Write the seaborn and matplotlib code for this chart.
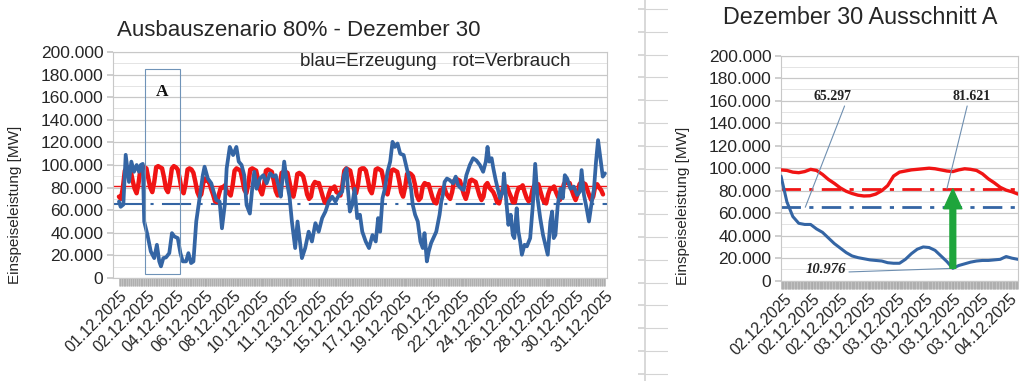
import numpy as np
import pandas as pd
import matplotlib
matplotlib.use("Agg")
import matplotlib.pyplot as plt
import seaborn as sns
from matplotlib.ticker import FuncFormatter, MultipleLocator
from matplotlib.patches import Rectangle

# Ganzer Monat: Erzeugung (blau), Tag im Dezember (0 = 01.12. 00:00), Werte in Tsd. MW
blau_tag = [0.0, 0.11, 0.28, 0.43, 0.64, 0.79, 0.96, 1.13, 1.28, 1.39, 1.52, 1.61, 1.82, 2.03,
            2.25, 2.42, 2.57, 2.68, 2.83, 3.0, 3.21, 3.38, 3.53, 3.75, 3.92, 4.07, 4.28, 4.43,
            4.6, 4.75, 4.93, 5.14, 5.35, 5.46, 5.67, 5.89, 6.04, 6.21, 6.42, 6.57, 6.75, 6.87,
            7.07, 7.28, 7.49, 7.64, 7.82, 7.99, 8.14, 8.35, 8.5, 8.63, 8.78, 8.99, 9.21, 9.42,
            9.64, 9.85, 10.0, 10.17, 10.32, 10.54, 10.71, 10.88, 11.03, 11.24, 11.39, 11.52,
            11.67, 11.88, 12.1, 12.31, 12.53, 12.74, 12.96, 13.17, 13.38, 13.6, 13.81, 14.03,
            14.24, 14.35, 14.52, 14.6, 14.73, 14.88, 15.03, 15.2, 15.37, 15.52, 15.74, 15.95,
            16.17, 16.38, 16.53, 16.66, 16.81, 16.96, 17.13, 17.3, 17.45, 17.6, 17.77, 17.94,
            18.16, 18.31, 18.46, 18.63, 18.74, 18.89, 19.06, 19.23, 19.38, 19.49, 19.64, 19.76,
            19.91, 20.1, 20.24, 20.45, 20.56, 20.66, 20.77, 20.92, 21.09, 21.31, 21.48, 21.63,
            21.84, 21.99, 22.16, 22.38, 22.59, 22.8, 23.02, 23.23, 23.4, 23.51, 23.62, 23.77,
            23.88, 24.03, 24.16, 24.31, 24.48, 24.56, 24.69, 24.84, 24.99, 25.12, 25.22, 25.37,
            25.48, 25.59, 25.7, 25.87, 26.02, 26.23, 26.4, 26.55, 26.7, 26.87, 27.05, 27.2,
            27.35, 27.52, 27.63, 27.73, 27.84, 27.99, 28.16, 28.31, 28.44, 28.59, 28.8, 29.01,
            29.23, 29.4, 29.51, 29.66, 29.83, 29.98, 30.13, 30.3, 30.43, 30.56, 30.68, 30.86,
            31.0]
blau_tsd = [67.6, 63, 65, 109, 85, 103, 94, 100, 94, 100, 101, 50, 38, 23.5,
            17.6, 29.4, 14.7, 10.3, 17.6, 18.2, 22, 39.7, 36.8, 35.3, 22, 14.7, 14.7, 22,
            13.2, 14.7, 50, 70.6, 91, 98.5, 88, 83.8, 76.4, 69, 67.6, 44, 64.7, 97,
            116, 108.8, 116, 103, 100, 91, 64.7, 57, 79, 94, 79, 88, 91, 83.8,
            92.6, 89.7, 91, 82, 72, 103, 85, 72, 50, 26.5, 50, 35.3,
            17.6, 26.5, 41, 32.3, 48.5, 41, 53, 58.8, 67.6, 72, 67.6, 73.5,
            76.4, 91, 97, 79, 58.8, 64.7, 79, 53, 56, 41, 32.3, 26.5,
            38, 32.3, 53, 41, 70.6, 79, 94, 103, 120.5, 116, 119, 110,
            108.8, 100, 91, 79, 64.7, 56, 50, 32.3, 26.5, 39.7, 14.7, 23.5,
            30.9, 36.8, 41, 56, 67.6, 73.5, 85, 88, 86.7, 83.8, 89.7, 82,
            79, 78, 91, 100, 106, 104, 100, 94, 103, 116, 103, 106,
            97, 86.7, 79, 70.6, 76.4, 92.6, 70.6, 47, 56, 38, 35.3, 61.7,
            41, 32.3, 20.6, 29.4, 28, 35.3, 64.7, 101, 70.6, 53, 38, 29.4,
            20.6, 50, 58.8, 35.3, 38, 64.7, 79, 70.6, 91, 88, 79, 80.9,
            73.5, 76.4, 95.5, 73.5, 61.7, 50, 64.7, 79, 103, 122, 108.8, 89.7,
            92.6]

# Verbrauch (rot), je Tag Werte um 0, 3, 6, ... 21 Uhr, Tsd. MW
rot_stunden = [0, 3, 6, 9, 12, 15, 18, 21]
rot_tsd = [
    [72, 70, 80, 95, 97, 98, 95, 86],   # 01.12.
    [79, 75, 84, 97, 99, 98, 97, 88],
    [80, 76, 85, 98, 99, 98, 97, 89],
    [79, 76, 84, 97, 99, 98, 96, 88],
    [78, 75, 83, 96, 97, 96, 93, 85],
    [76, 72, 74, 84, 88, 86, 85, 79],
    [74, 68, 67, 74, 80, 80, 82, 77],
    [75, 73, 82, 95, 97, 96, 95, 87],   # 08.12.
    [78, 75, 83, 96, 97, 96, 95, 87],
    [78, 74, 82, 95, 96, 95, 94, 86],
    [77, 73, 81, 93, 94, 94, 93, 85],
    [76, 72, 80, 92, 93, 92, 90, 83],
    [74, 70, 72, 82, 85, 84, 84, 78],
    [72, 67, 66, 74, 79, 79, 81, 76],
    [75, 73, 82, 95, 97, 96, 95, 87],   # 15.12.
    [78, 75, 83, 96, 97, 97, 95, 87],
    [78, 75, 83, 96, 97, 96, 95, 87],
    [77, 74, 82, 95, 96, 95, 94, 86],
    [76, 72, 80, 92, 93, 92, 90, 83],
    [73, 69, 71, 81, 84, 83, 83, 77],
    [71, 67, 66, 73, 78, 78, 80, 75],
    [72, 70, 76, 86, 88, 87, 86, 80],   # 22.12.
    [74, 70, 76, 86, 87, 86, 85, 79],
    [73, 69, 72, 82, 84, 80, 78, 76],
    [72, 67, 66, 74, 79, 79, 81, 76],
    [72, 67, 67, 75, 80, 80, 82, 76],
    [71, 68, 69, 78, 82, 82, 83, 77],
    [71, 67, 66, 74, 79, 79, 81, 76],
    [72, 69, 74, 83, 85, 84, 84, 78],   # 29.12.
    [73, 69, 74, 83, 85, 84, 83, 78],
    [73, 69, 72, 81, 83, 80, 78, 74],
]

mittel_erzeugung = 65297
mittel_verbrauch = 81621
minimum = 10976

x_labels_links = ['01.12.2025', '02.12.2025', '04.12.2025', '06.12.2025', '08.12.2025',
                  '10.12.2025', '11.12.2025', '13.12.2025', '15.12.2025', '17.12.2025',
                  '19.12.2025', '20.12.25', '22.12.2025', '24.12.2025', '26.12.2025',
                  '28.12.2025', '30.12.2025', '31.12.2025']

# Ausschnitt A: stuendlich ab 02.12. vormittags
aus_stunde = list(range(41))
aus_blau_tsd = [93, 70, 57, 51, 50, 50, 46, 43, 38, 33, 29, 25, 22, 20.5, 19.5, 18.5, 18, 17.5,
                16, 15.5, 15.5, 19, 24, 28, 30, 29.5, 27, 22, 17, 10.976, 13.5, 15, 16.5,
                17.5, 18, 18, 18.5, 19, 21.5, 20, 19]
aus_rot_tsd = [98.5, 98, 96.5, 96, 97, 99, 98, 94.5, 90, 86.5, 82.5, 79.5, 77.5, 76, 75.3,
               75.5, 77, 80, 84.5, 93, 96.5, 97.5, 98.5, 99, 99.5, 100, 99.5, 98.5, 97.5, 97,
               98.5, 99.5, 99, 98, 95, 90.5, 87, 83, 80.5, 79, 77]
x_labels_rechts = ['02.12.2025', '02.12.2025', '02.12.2025', '03.12.2025', '03.12.2025',
                   '03.12.2025', '03.12.2025', '03.12.2025', '04.12.2025']
stunde_minimum = 29

BLAU = '#3465a4'
ROT = '#f01414'
GRUEN = '#1ea53c'
GRID = '#c8c8c8'
TXT = '#262626'

df_blau = pd.DataFrame({'tag': blau_tag, 'mw': np.array(blau_tsd) * 1000})
df_rot = pd.DataFrame({
    'tag': [d + h / 24 for d in range(len(rot_tsd)) for h in rot_stunden],
    'mw': np.array(rot_tsd).ravel() * 1000,
})
df_aus = pd.DataFrame({'stunde': aus_stunde,
                       'blau': np.array(aus_blau_tsd) * 1000,
                       'rot': np.array(aus_rot_tsd) * 1000})

sns.set_theme(style='white')
plt.rcParams['font.family'] = ['Liberation Sans', 'DejaVu Sans']

fig = plt.figure(figsize=(10.24, 3.81), dpi=100)
W, H = 1024, 381
ax1 = fig.add_axes([113 / W, 1 - 278 / H, (607 - 113) / W, (278 - 52) / H])
ax2 = fig.add_axes([781 / W, 1 - 280.7 / H, (1018 - 781) / W, 225 / H])

tsd_fmt = FuncFormatter(lambda v, p: f'{v:,.0f}'.replace(',', '.'))


def style_axis(ax):
    ax.set_ylim(0, 200000)
    ax.yaxis.set_major_locator(MultipleLocator(20000))
    ax.yaxis.set_minor_locator(MultipleLocator(10000))
    ax.yaxis.set_major_formatter(tsd_fmt)
    ax.grid(axis='y', which='major', color=GRID, lw=0.9)
    ax.grid(axis='y', which='minor', color='#e4e4e4', lw=0.7)
    ax.set_axisbelow(True)
    for s in ax.spines.values():
        s.set_color(GRID)
        s.set_linewidth(0.8)
    ax.tick_params(axis='y', which='major', left=True, length=4, color=GRID,
                   labelsize=12.5, labelcolor=TXT, pad=3)
    ax.tick_params(axis='y', which='minor', left=False)
    ax.tick_params(axis='x', which='both', bottom=True, direction='out', length=5.5,
                   width=0.5, color='#a8a8a8', labelsize=11.5, labelcolor=TXT, pad=2)
    ax.set_xlabel('')
    ax.set_ylabel('')


# --- linkes Diagramm ---
ax1.axhline(mittel_verbrauch, color=ROT, lw=1.0, zorder=2)
ax1.axhline(mittel_erzeugung, color=BLAU, lw=1.5, ls=(0, (14, 4, 1.5, 4)), zorder=2)
sns.lineplot(data=df_rot, x='tag', y='mw', sort=False, estimator=None, color=ROT,
             lw=3.2, ax=ax1, zorder=3)
sns.lineplot(data=df_blau, x='tag', y='mw', sort=False, estimator=None, color=BLAU,
             lw=2.7, ax=ax1, zorder=4)
ax1.set_xlim(-0.38, 31.13)
ax1.set_xticks(np.linspace(0, 31, len(x_labels_links)))
ax1.set_xticks(np.arange(0, 31, 1 / 24), minor=True)
ax1.set_xticklabels(x_labels_links, rotation=45, ha='right', rotation_mode='anchor')
style_axis(ax1)

# Kasten A
ax1.add_patch(Rectangle((1.66, 3500), 2.23, 181500, fill=False, ec='#6f93b8', lw=0.8, zorder=5))
ax1.text(2.74, 164500, 'A', family=['Liberation Serif', 'DejaVu Serif'], weight='bold',
         fontsize=12.5, ha='center', va='center', color='#111111')

fig.text(117 / W, 1 - 30 / H, 'Ausbauszenario 80% - Dezember 30', fontsize=16,
         ha='left', va='center', color=TXT)
fig.text(300 / W, 1 - 61 / H, 'blau=Erzeugung   rot=Verbrauch', fontsize=13.5,
         ha='left', va='center', color=TXT)
fig.text(15 / W, 1 - 205 / H, 'Einspeiseleistung [MW]', rotation=90, fontsize=11,
         ha='center', va='center', color=TXT)

# --- rechtes Diagramm (Ausschnitt A) ---
ax2.axhline(mittel_verbrauch, color=ROT, lw=2.0, ls=(0, (7, 3, 1.5, 3)), zorder=2)
ax2.axhline(mittel_erzeugung, color=BLAU, lw=2.0, ls=(0, (7, 3, 1.5, 3)), zorder=2)
sns.lineplot(data=df_aus, x='stunde', y='rot', color=ROT, lw=2.4, ax=ax2, zorder=3)
sns.lineplot(data=df_aus, x='stunde', y='blau', color=BLAU, lw=2.2, ax=ax2, zorder=4)
ax2.set_xlim(0, 40)
ax2.set_xticks(np.linspace(0.5, 38.6, len(x_labels_rechts)))
ax2.set_xticks(np.arange(0, 40.01, 0.1), minor=True)
ax2.set_xticklabels(x_labels_rechts, rotation=45, ha='right', rotation_mode='anchor')
style_axis(ax2)

lead = dict(arrowstyle='-', color='#6f8fb0', lw=0.8, shrinkA=0, shrinkB=0)
serif = ['Liberation Serif', 'DejaVu Serif']
ax2.annotate('65.297', xy=(4.1, mittel_erzeugung), xytext=(8.7, 164000),
             ha='center', va='center', fontsize=10, weight='bold', family=serif,
             color='#222222', arrowprops=dict(lead, relpos=(0.85, 0)))
ax2.annotate('81.621', xy=(28.0, mittel_verbrauch), xytext=(32.2, 164000),
             ha='center', va='center', fontsize=10, weight='bold', family=serif,
             color='#222222', arrowprops=dict(lead, relpos=(0.4, 0)))
ax2.annotate('10.976', xy=(stunde_minimum, minimum), xytext=(7.5, 10000),
             ha='center', va='center', fontsize=10.5, weight='bold', style='italic',
             family=serif, color='#222222', arrowprops=dict(lead, relpos=(1, 0.3)))
ax2.annotate('', xy=(stunde_minimum, mittel_verbrauch), xytext=(stunde_minimum, minimum),
             arrowprops=dict(arrowstyle='simple,head_length=1.1,head_width=1.0,tail_width=0.32',
                             color=GRUEN, shrinkA=0, shrinkB=0, mutation_scale=13), zorder=6)

fig.text(860 / W, 1 - 18 / H, 'Dezember 30 Ausschnitt A', fontsize=16.8,
         ha='center', va='center', color=TXT)
fig.text(683 / W, 1 - 206 / H, 'Einspeiseleistung [MW]', rotation=90, fontsize=11,
         ha='center', va='center', color=TXT)

# Rest des Tabellenrasters zwischen den Diagrammen
ax3 = fig.add_axes([645 / W, 0, 23 / W, 1])
ax3.set_xlim(0, 1)
ax3.set_ylim(H, 0)
ax3.set_yticks(np.arange(9, H, 22.8))
ax3.set_yticklabels([])
ax3.set_xticks([])
ax3.grid(axis='y', color='#d4d4d4', lw=0.8)
for k, s in ax3.spines.items():
    s.set_visible(k == 'left')
ax3.spines['left'].set_color('#d4d4d4')
ax3.tick_params(axis='y', left=True, length=5, color='#d4d4d4')
ax3.patch.set_alpha(0)

fig.savefig('out.png', dpi=100)
